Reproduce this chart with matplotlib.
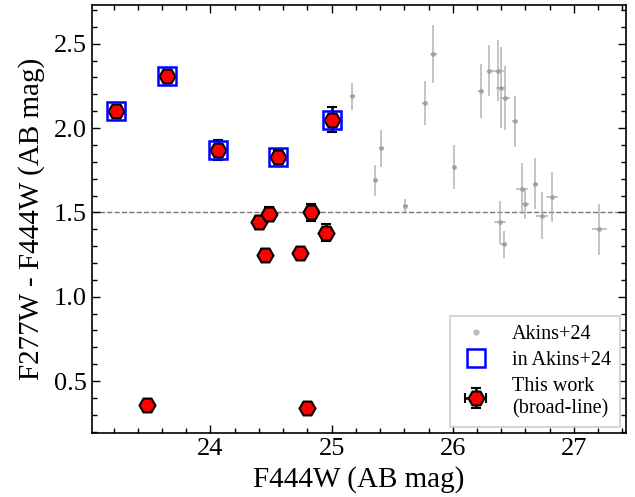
import matplotlib
matplotlib.use("Agg")
import matplotlib.pyplot as plt
from matplotlib.ticker import MultipleLocator
from matplotlib.lines import Line2D
import numpy as np

plt.rcParams['font.family'] = ['Liberation Serif', 'DejaVu Serif']
plt.rcParams['mathtext.fontset'] = 'stix'

# Akins+24 sample
akins_mag = [25.17, 25.84, 25.77, 25.41, 25.36, 25.61, 26.01, 26.23, 26.30, 26.37,
             26.40, 26.43, 26.51, 26.57, 26.60, 26.68, 26.74, 26.82, 26.39, 26.42, 27.21]
akins_col = [2.19, 2.44, 2.15, 1.88, 1.69, 1.54, 1.77, 2.22, 2.34, 2.34,
             2.24, 2.18, 2.04, 1.64, 1.55, 1.67, 1.48, 1.59, 1.44, 1.31, 1.40]
akins_yerr = [0.08, 0.17, 0.13, 0.11, 0.09, 0.04, 0.13, 0.16, 0.15, 0.18,
              0.24, 0.19, 0.15, 0.15, 0.09, 0.15, 0.14, 0.15, 0.13, 0.08, 0.15]
akins_xerr = [0.02, 0.03, 0.02, 0.02, 0.02, 0.02, 0.02, 0.02, 0.02, 0.05,
              0.04, 0.04, 0.02, 0.05, 0.03, 0.02, 0.05, 0.05, 0.05, 0.03, 0.06]

# This work (broad-line)
this_mag = [23.22, 23.64, 24.06, 24.56, 25.00, 24.40, 24.48, 24.45, 24.74, 24.83,
            24.95, 23.48, 24.80]
this_col = [2.10, 2.31, 1.87, 1.83, 2.05, 1.44, 1.49, 1.25, 1.26, 1.50, 1.38, 0.355, 0.34]
this_yerr = [0.03, 0.03, 0.06, 0.04, 0.075, 0.04, 0.04, 0.03, 0.03, 0.05, 0.05, 0.02, 0.02]
this_xerr = [0.02, 0.02, 0.02, 0.02, 0.02, 0.02, 0.02, 0.02, 0.02, 0.02, 0.02, 0.02, 0.02]

# Objects also in Akins+24
in_akins_mag = [23.22, 23.64, 24.06, 24.56, 25.00]
in_akins_col = [2.10, 2.31, 1.87, 1.83, 2.05]

fig = plt.figure(figsize=(6.35, 4.97), dpi=100)
ax = fig.add_axes([0.1444, 0.1282, 0.9858 - 0.1444, 0.990 - 0.1282])

ax.axhline(1.5, color='#777777', ls='--', lw=1.0, zorder=1)

ax.errorbar(akins_mag, akins_col, yerr=akins_yerr, xerr=akins_xerr, fmt='o',
            ms=3.5, color='#9a9a9a', ecolor='#a8a8a8', elinewidth=1.2, alpha=0.8,
            capsize=0, zorder=2, mew=0)

sq, = ax.plot(in_akins_mag, in_akins_col, 's', ms=13, mfc='none', mec='#0000ff',
              mew=1.8, zorder=4)

tw = ax.errorbar(this_mag, this_col, yerr=this_yerr, xerr=this_xerr, fmt='H', ms=11.5,
                 mfc='red', mec='black', mew=1.5, ecolor='black', elinewidth=1.8,
                 capsize=3.5, capthick=1.8, zorder=3)

ax.set_xlim(23.02, 27.43)
ax.set_ylim(0.19, 2.73)
ax.xaxis.set_minor_locator(MultipleLocator(0.2))
ax.yaxis.set_minor_locator(MultipleLocator(0.1))
ax.set_yticks([0.5, 1.0, 1.5, 2.0, 2.5])
ax.set_yticklabels(['0.5', '1.0', '1.5', '2.0', '2.5'])
ax.set_xticks([24, 25, 26, 27])
ax.tick_params(which='both', direction='in', top=True, right=True, labelsize=19)
ax.tick_params(which='major', length=6, width=1)
ax.tick_params(which='minor', length=3.5, width=1)
for s in ax.spines.values():
    s.set_linewidth(1.2)

ax.set_xlabel('F444W (AB mag)', fontsize=21, labelpad=4)
ax.set_ylabel('F277W - F444W (AB mag)', fontsize=21, labelpad=6)

dot = Line2D([], [], ls='none', marker='o', ms=4.5, color='#bdbdbd', mew=0)
leg = ax.legend([dot, sq, tw], ['Akins+24', 'in Akins+24', 'This work\n(broad-line)'],
                loc='lower right', fontsize=14.5, frameon=True, fancybox=False,
                edgecolor='#cccccc', borderaxespad=0.3, handletextpad=1.0,
                labelspacing=0.35, borderpad=0.45, handlelength=1.6)
leg.get_frame().set_linewidth(1.5)

fig.savefig('out.png', dpi=100)
